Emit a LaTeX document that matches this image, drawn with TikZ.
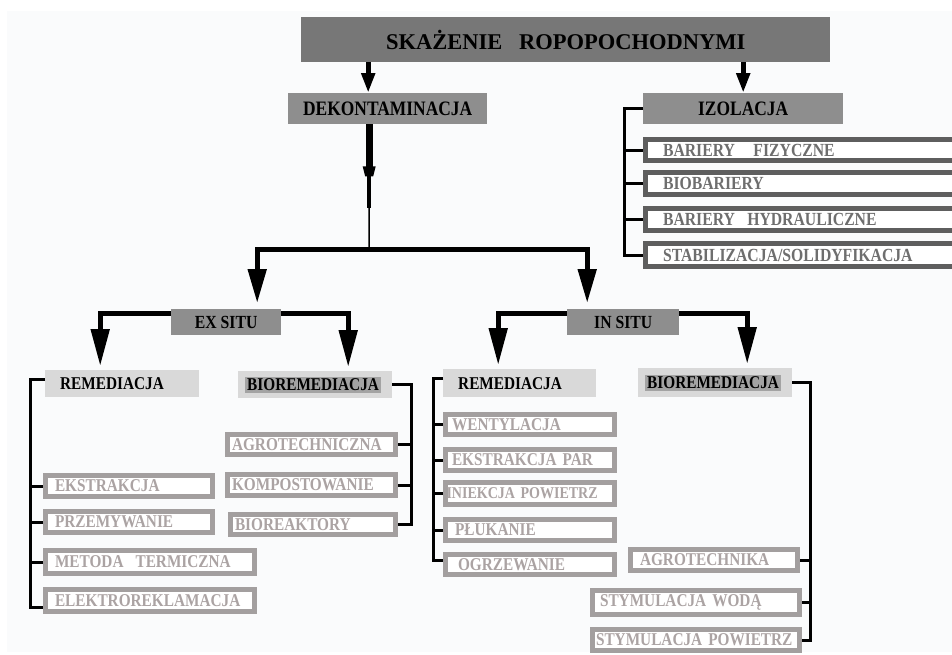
\documentclass[tikz,border=0pt]{standalone}
\usepackage{fontspec}
\setmainfont{Liberation Serif}
\newfontfamily\condfont{Liberation Serif}[FakeStretch=0.85]
\usepackage{tikz}
\usetikzlibrary{arrows.meta,calc,positioning}
\definecolor{titlegray}{HTML}{777777}
\definecolor{headgray}{HTML}{8E8E8E}
\definecolor{subgray}{HTML}{D9D9D9}
\definecolor{biogray}{HTML}{A3A3A3}
\definecolor{izoline}{HTML}{5E5E5E}
\definecolor{izotext}{HTML}{6E6E6E}
\definecolor{remline}{HTML}{A39F9F}
\definecolor{remtext}{HTML}{ABA3A3}
\definecolor{panelgray}{HTML}{FAFBFC}
\newcommand\biohl[1]{{\setlength{\fboxsep}{2pt}\colorbox{biogray}{#1}}}

\begin{document}
\begin{tikzpicture}[x=1pt,y=-1pt,
  every node/.style={inner ysep=0pt},
  titlebox/.style={fill=titlegray,anchor=north west,font=\fontsize{22.5}{24}\selectfont\bfseries},
  headbox/.style={fill=headgray,anchor=north west,font=\condfont\fontsize{20.5}{22}\selectfont\bfseries},
  situbox/.style={fill=headgray,anchor=north west,font=\condfont\fontsize{18.5}{20}\selectfont\bfseries},
  subbox/.style={fill=subgray,anchor=north west,align=left,font=\condfont\fontsize{18}{20}\selectfont\bfseries},
  izoleaf/.style={draw=izoline,line width=5pt,fill=white,text=izotext,anchor=north west,align=left,
    inner xsep=17.5pt,text width=279pt,font=\condfont\fontsize{18.5}{20}\selectfont\bfseries},
  remleaf/.style={draw=remline,line width=5pt,fill=white,text=remtext,anchor=north west,align=left,
    font=\condfont\fontsize{18}{20}\selectfont\bfseries},
  padw/.style 2 args={inner xsep=#1,text width=#2},
  arrtop/.style={line width=5pt,-{Triangle[length=20pt,width=13pt]}},
  arrmid/.style={line width=5pt,-{Triangle[length=34pt,width=18pt]},shorten >=6pt},
  arrlow/.style={line width=5pt,-{Triangle[length=37pt,width=18pt]},shorten >=4pt},
  brk/.style={line width=3pt}]
  \useasboundingbox (0,0) rectangle (952,654);
  \clip (0,0) rectangle (952,654);
  \fill[panelgray] (7,11) rectangle (952,652);

  \node[titlebox,minimum width=529pt,minimum height=45pt] (top) at (301,17) {SKAŻENIE~~~ROPOPOCHODNYMI};
  \node[headbox,minimum width=199pt,minimum height=31pt] (dekon) at (288,93) {DEKONTAMINACJA};
  \node[headbox,minimum width=200pt,minimum height=31pt] (izo) at (643,93) {IZOLACJA};
  \draw[arrtop] ([xshift=-19.5pt]dekon.north |- top.south) -- ([xshift=-19.5pt]dekon.north);
  \draw[arrtop] (izo.north |- top.south) -- (izo.north);

  \node[izoleaf,minimum height=21pt] (bf) at (643,137) {BARIERY~~~FIZYCZNE};
  \node[izoleaf,minimum height=22pt] (biob) at (643,170) {BIOBARIERY};
  \node[izoleaf,minimum height=22pt] (hydr) at (643,206) {BARIERY~~HYDRAULICZNE};
  \node[izoleaf,minimum height=23pt] (stab) at (643,241) {STABILIZACJA/SOLIDYFIKACJA};
  \draw[brk] (izo.west) -- ++(-19,0) |- (stab.west);
  \foreach \n in {bf,biob,hydr} \draw[brk] (\n.west) -- ++(-19,0);

  \coordinate (split) at (369,249);
  \draw[line width=7pt] ([xshift=-18.5pt]dekon.south) -- ++(0,44) coordinate (bulge);
  \fill ($(bulge)+(-6.5,-2)$) -- ++(13,0) -- ++(-2.5,10) -- ++(-8,0) -- cycle;
  \draw[line width=4pt] (bulge) -- ++(0,40);
  \draw[line width=1.5pt] (bulge) ++(0,36) -- (split);

  \node[situbox,minimum width=110pt,minimum height=26pt] (exsitu) at (171,309) {EX SITU};
  \node[situbox,minimum width=112pt,minimum height=26pt] (insitu) at (567,309) {IN SITU};
  \draw[arrmid] (split) -| ([xshift=31pt]exsitu.north);
  \draw[arrmid] (split) -| ([xshift=-36pt]insitu.north);

  \node[subbox,padw={15pt}{124pt},minimum height=27pt] (exrem) at (45,370) {REMEDIACJA};
  \node[subbox,padw={7pt}{140pt},minimum height=27pt] (exbio) at (238,371) {\biohl{BIOREMEDIACJA}};
  \node[subbox,padw={15pt}{123pt},minimum height=28pt] (inrem) at (443,369) {REMEDIACJA};
  \node[subbox,padw={7pt}{140pt},minimum height=29pt] (inbio) at (638,368) {\biohl{BIOREMEDIACJA}};
  \draw[arrlow] ([yshift=-4pt]exsitu.north west) -| ([xshift=-22pt]exrem.north);
  \draw[arrlow] ([yshift=-4pt]exsitu.north east) -| ([xshift=33pt]exbio.north);
  \draw[arrlow] ([yshift=-4pt]insitu.north west) -| ([xshift=-21.5pt]inrem.north);
  \draw[arrlow] ([yshift=-4pt]insitu.north east) -| ([xshift=32pt]inbio.north);

  \node[remleaf,padw={9.5pt}{148pt},minimum height=21pt] (ekstr) at (43,473) {EKSTRAKCJA};
  \node[remleaf,padw={9.5pt}{148pt},minimum height=21pt] (przem) at (43,509) {PRZEMYWANIE};
  \node[remleaf,padw={9.5pt}{190pt},minimum height=23pt] (metoda) at (43,548) {METODA~~TERMICZNA};
  \node[remleaf,padw={9.5pt}{190pt},minimum height=22pt] (elektro) at (43,587) {ELEKTROREKLAMACJA};
  \draw[brk] ([yshift=4pt]exrem.west) -- ++(-15,0) |- ([yshift=-7pt]elektro.west);
  \foreach \n in {ekstr,przem,metoda} \draw[brk] (\n.west) -- ++(-13,0);

  \node[remleaf,padw={4.5pt}{159pt},minimum height=20pt] (agro) at (225,432) {AGROTECHNICZNA};
  \node[remleaf,padw={4.5pt}{159pt},minimum height=21pt] (komp) at (225,472) {KOMPOSTOWANIE};
  \node[remleaf,padw={4.5pt}{156pt},minimum height=20pt] (bioreak) at (228,512) {BIOREAKTORY};
  \draw[brk] (exbio.east) -- ++(19,0) |- (bioreak.east);
  \foreach \n in {agro,komp} \draw[brk] (\n.east) -- ++(13,0);

  \node[remleaf,padw={6.5pt}{156pt},minimum height=20pt] (went) at (443,412) {WENTYLACJA};
  \node[remleaf,padw={6.5pt}{156pt},minimum height=21pt] (ekspar) at (443,447) {EKSTRAKCJA PAR};
  \node[remleaf,padw={1pt}{167pt},minimum height=22pt,font=\condfont\fontsize{16.5}{18}\selectfont\bfseries] (iniek) at (443,480) {\mbox{INIEKCJA POWIETRZ}};
  \node[remleaf,padw={9.5pt}{150pt},minimum height=21pt] (pluk) at (443,517) {PŁUKANIE};
  \node[remleaf,padw={12.5pt}{144pt},minimum height=20pt] (ogrz) at (443,552) {OGRZEWANIE};
  \draw[brk] ([yshift=5pt]inrem.west) -- ++(-10,0) |- ([yshift=4pt]ogrz.west);
  \foreach \n in {went,ekspar,iniek,pluk} \draw[brk] (\n.west) -- ++(-10,0);

  \node[remleaf,padw={9.5pt}{148pt},minimum height=21pt] (agrot) at (628,547) {AGROTECHNIKA};
  \node[remleaf,padw={7.5pt}{192pt},minimum height=24pt] (stymw) at (590,588) {STYMULACJA WODĄ};
  \node[remleaf,padw={3.5pt}{200pt},minimum height=21pt] (stymp) at (590,627) {\mbox{STYMULACJA POWIETRZ}};
  \draw[brk] (inbio.east) -- ++(18,0) |- (stymp.east);
  \draw[brk] (agrot.east) -- ++(10,0);
  \draw[brk] (stymw.east) -- ++(8,0);
\end{tikzpicture}
\end{document}
